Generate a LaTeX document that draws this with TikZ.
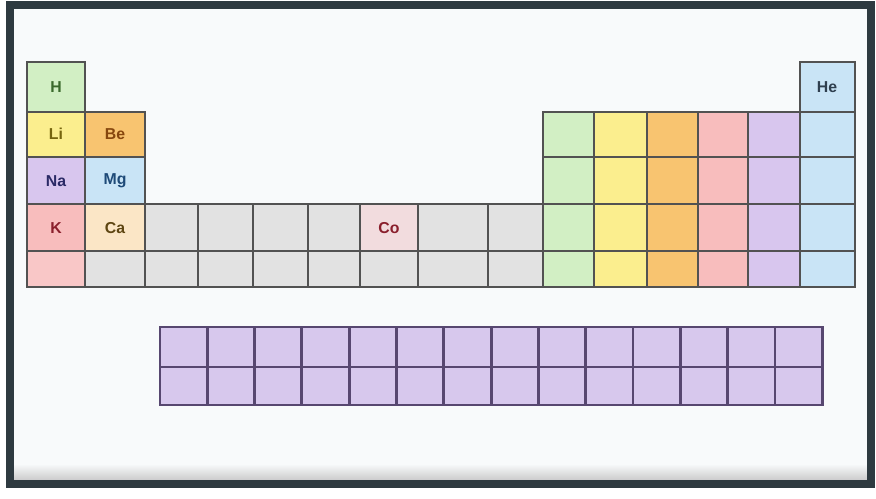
\documentclass[tikz,border=0pt]{standalone}
\usepackage{fontspec}
\setmainfont{Liberation Sans}
\definecolor{framecol}{HTML}{2E3A40}
\definecolor{paper}{HTML}{F8FAFB}
\definecolor{gridgray}{HTML}{525252}
\definecolor{lanline}{HTML}{574770}
% cell fills
\definecolor{cgreen}{HTML}{D2EFC4}
\definecolor{cyellow}{HTML}{FBEE8E}
\definecolor{corange}{HTML}{F8C470}
\definecolor{cpink}{HTML}{F8BDBD}
\definecolor{cpurple}{HTML}{D8C6EE}
\definecolor{cblue}{HTML}{C9E4F6}
\definecolor{cpeach}{HTML}{FBE6C6}
\definecolor{cgray}{HTML}{E2E2E2}
\definecolor{cco}{HTML}{F2DCDE}
\definecolor{clan}{HTML}{D7C8ED}
% symbol colours
\definecolor{thgreen}{HTML}{3B6A2C}
\definecolor{tolive}{HTML}{76650E}
\definecolor{tbrown}{HTML}{87470E}
\definecolor{tnavy}{HTML}{2B2A66}
\definecolor{tblue}{HTML}{1E4A78}
\definecolor{tred}{HTML}{8A1F2C}
\definecolor{tumber}{HTML}{5E4612}
\definecolor{tslate}{HTML}{2F3F4F}
\begin{document}
\begin{tikzpicture}[x=0.02cm, y=-0.02cm,
    cell/.style={draw=gridgray, line width=1.6pt},
    lancell/.style={draw=lanline, line width=1.6pt, fill=clan},
    sym/.style={font=\fontsize{9}{10}\selectfont\bfseries}]
    \useasboundingbox (0,0) rectangle (876,498);

    % Page and frame
    \fill[white] (0,0) rectangle (876,498);
    \fill[paper] (10,5) rectangle (871,484);
    \shade[top color=paper, bottom color=gray!45] (14,464) rectangle (867,482);
    \draw[framecol, line width=4pt] (10,5) rectangle (871,484);

    % s-block (first two columns)
    \filldraw[cell, fill=cgreen]  (27,62)   rectangle (85,112);
    \filldraw[cell, fill=cyellow] (27,112)  rectangle (85,157);
    \filldraw[cell, fill=corange] (85,112)  rectangle (145,157);
    \filldraw[cell, fill=cpurple] (27,157)  rectangle (85,204);
    \filldraw[cell, fill=cblue]   (85,157)  rectangle (145,204);
    \filldraw[cell, fill=cpink]   (27,204)  rectangle (85,251);
    \filldraw[cell, fill=cpeach]  (85,204)  rectangle (145,251);
    \filldraw[cell, fill=cpink!85] (27,251) rectangle (85,287);
    \filldraw[cell, fill=cgray]   (85,251)  rectangle (145,287);

    % d-block: grey cells, two rows
    \foreach \xa/\xb in {145/198, 198/253, 253/308, 308/360, 360/418, 418/488, 488/543}
      \foreach \ya/\yb in {204/251, 251/287}
        \filldraw[cell, fill=cgray] (\xa,\ya) rectangle (\xb,\yb);
    \filldraw[cell, fill=cco] (360,204) rectangle (418,251);

    % p-block: one colour per column, four rows
    \foreach \xa/\xb/\col in {543/594/cgreen, 594/647/cyellow, 647/698/corange,
                              698/748/cpink, 748/800/cpurple, 800/855/cblue}
      \foreach \ya/\yb in {112/157, 157/204, 204/251, 251/287}
        \filldraw[cell, fill=\col] (\xa,\ya) rectangle (\xb,\yb);
    \filldraw[cell, fill=cblue] (800,62) rectangle (855,112);

    % Lanthanides and actinides: 14 x 2
    \foreach \i in {0,...,13}
      \foreach \ya/\yb in {327/367, 367/405}
        \filldraw[lancell] (160+47.3*\i,\ya) rectangle (160+47.3*\i+47.3,\yb);

    % Element symbols
    \node[sym, text=thgreen] (H)  at (56,87)   {H};
    \node[sym, text=tolive]  (Li) at (56,134)  {Li};
    \node[sym, text=tbrown]  (Be) at (115,134) {Be};
    \node[sym, text=tnavy]   (Na) at (56,181)  {Na};
    \node[sym, text=tblue]   (Mg) at (115,181) {Mg};
    \node[sym, text=tred]    (K)  at (56,228)  {K};
    \node[sym, text=tumber]  (Ca) at (115,228) {Ca};
    \node[sym, text=tred]    (Co) at (389,228) {Co};
    \node[sym, text=tslate]  (He) at (827,87)  {He};
  \end{tikzpicture}
\end{document}
